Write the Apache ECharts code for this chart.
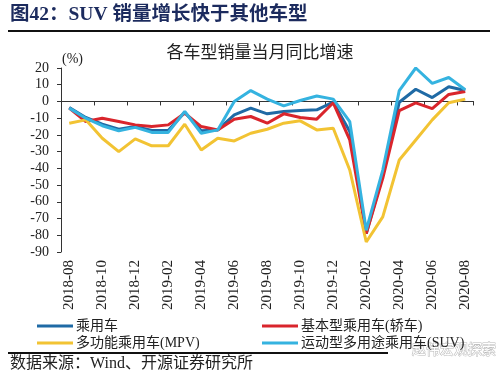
<!DOCTYPE html>
<html>
<head>
<meta charset="utf-8">
<script src="https://cdn.jsdelivr.net/npm/echarts@6/dist/echarts.min.js"></script>
<style>html,body{margin:0;padding:0;background:#fff;}#c{width:500px;height:383px;}</style>
</head>
<body>
<div id="c"></div>
<script>
var months = ['2018-08','2018-09','2018-10','2018-11','2018-12','2019-01','2019-02','2019-03','2019-04','2019-05','2019-06','2019-07','2019-08','2019-09','2019-10','2019-11','2019-12','2020-01','2020-02','2020-03','2020-04','2020-05','2020-06','2020-07','2020-08'];
var passenger = [-3.6,-9.6,-13.6,-16.6,-15,-17.4,-17.4,-6.4,-17.5,-17,-8,-4,-7.4,-6,-5.4,-5,-0.4,-18,-79,-44,-0.5,7.3,2.3,8.8,6.5];
var sedan = [-4,-12,-10,-12,-14,-15,-14,-7,-15,-17,-10.6,-9,-13,-7.4,-9.6,-10.6,-0.8,-23,-79,-46,-5.5,-0.8,-4.3,4.2,6];
var mpv = [-13,-11,-22,-30,-22.4,-26.5,-26.5,-13.6,-29,-22,-23.6,-19,-16.6,-13,-11.6,-17,-16,-41,-84,-69,-35,-23,-11,-0.8,1.4];
var suv = [-4,-10,-14.5,-17.5,-15.5,-18.5,-18.5,-6,-19,-17,0,6.5,1.4,-2.6,0.6,3.3,1.4,-12,-77,-41,6.5,20,10.8,14.3,7];
var names = ['乘用车','基本型乘用车(轿车)','多功能乘用车(MPV)','运动型多用途乘用车(SUV)'];
var colors = ['#1f6aa5','#d9252c','#f2c333','#35b3e0'];

var FONT = '"Liberation Serif", "Noto Sans CJK SC", serif';
var chart = echarts.init(document.getElementById('c'), null, {renderer:'canvas'});
var seriesData = [passenger, sedan, mpv, suv];
var series = seriesData.map(function(d, i){
  return {name: names[i], type:'line', data:d, xAxisIndex:0, yAxisIndex:0, symbol:'none', smooth:false,
    lineStyle:{width:3, color:colors[i]}, itemStyle:{color:colors[i]}, z: 2+i};
});
var legendCommon = {orient:'vertical', icon:'rect', itemWidth:36, itemHeight:3, itemGap:3,
  textStyle:{fontFamily:FONT, fontSize:14, color:'#222', padding:[0,0,0,-2]}};
chart.setOption({
  animation:false,
  backgroundColor:'#fff',
  grid:{left:61, right:26.5, top:68, bottom:131, containLabel:false},
  legend:[
    Object.assign({left:32, top:314, data:[names[0], names[2]]}, legendCommon),
    Object.assign({left:257, top:314, data:[names[1], names[3]]}, legendCommon)
  ],
  xAxis:[
    {type:'category', data:months, boundaryGap:true, position:'bottom',
      axisLine:{show:true, onZero:true, lineStyle:{color:'#333', width:1}},
      axisTick:{show:true, interval:1, length:4, lineStyle:{color:'#333'}},
      axisLabel:{show:false}, splitLine:{show:false}},
    {type:'category', data:months, boundaryGap:true, position:'bottom',
      axisLine:{show:false, onZero:false}, axisTick:{show:false},
      axisLabel:{show:true, interval:1, rotate:90, margin:8, fontSize:15, fontFamily:FONT, color:'#222'},
      splitLine:{show:false}}
  ],
  yAxis:{type:'value', min:-90, max:20, interval:10,
    axisLine:{show:true, lineStyle:{color:'#333', width:1}},
    axisTick:{show:true, length:4, lineStyle:{color:'#333'}},
    axisLabel:{fontSize:14, fontFamily:FONT, color:'#222', margin:12},
    splitLine:{show:false}},
  graphic:[
    {type:'text', x:10, y:15, style:{text:'图42：SUV 销量增长快于其他车型', font:'bold 19.5px "Liberation Serif", "Noto Sans CJK SC", serif', fill:'#1c2b5e', textVerticalAlign:'middle'}},
    {type:'line', shape:{x1:8, y1:31, x2:490, y2:31}, style:{stroke:'#111', lineWidth:2}},
    {type:'text', x:260, y:52, style:{text:'各车型销量当月同比增速', font:'17px "Noto Sans CJK SC", sans-serif', fill:'#222', textAlign:'center', textVerticalAlign:'middle'}},
    {type:'text', x:62, y:59, style:{text:'(%)', font:'14px "Liberation Serif", serif', fill:'#222', textVerticalAlign:'middle'}},
    {type:'line', shape:{x1:8, y1:353, x2:388, y2:353}, style:{stroke:'#111', lineWidth:2}},
    {type:'text', x:10, y:364, style:{text:'数据来源：Wind、开源证券研究所', font:'16px "Liberation Serif", "Noto Sans CJK SC", serif', fill:'#222', textVerticalAlign:'middle'}},
    {type:'text', x:412, y:349, style:{text:'赵伟宏观探索', font:'14px "Noto Sans CJK SC", sans-serif', fill:'#fff', stroke:'#b8b8b8', lineWidth:1, textVerticalAlign:'middle'}}
  ],
  series: series
});
</script>
</body>
</html>
